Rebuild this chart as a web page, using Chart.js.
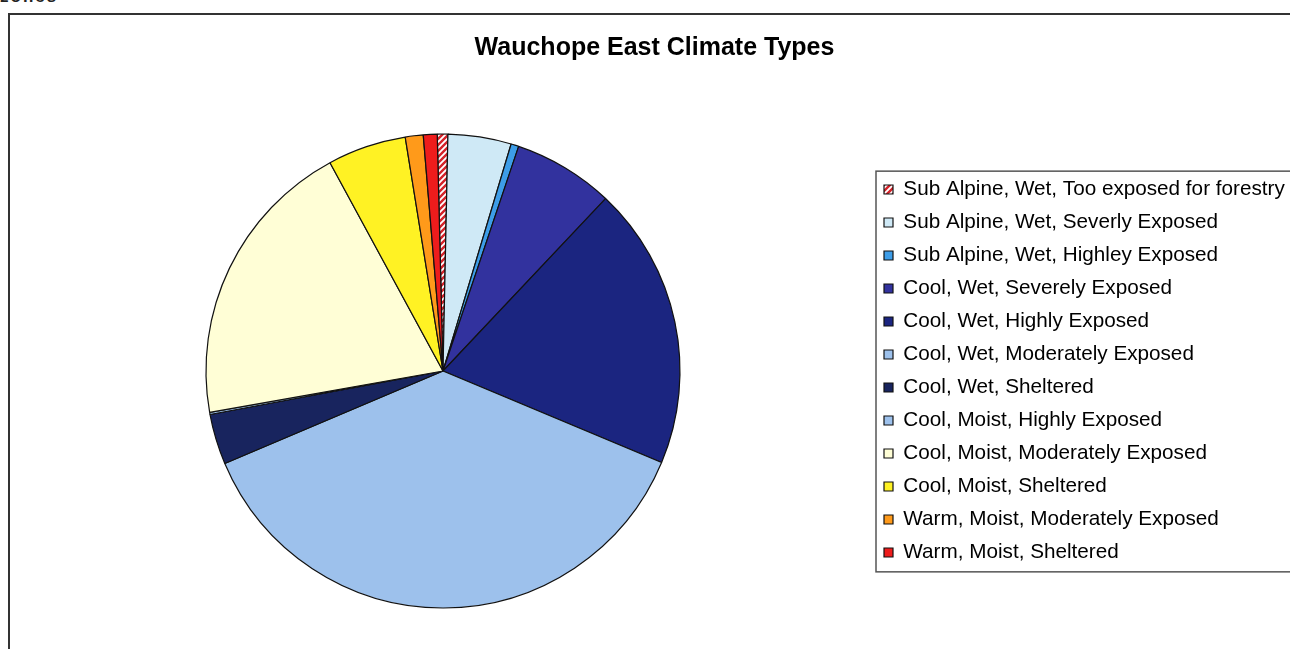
<!DOCTYPE html>
<html>
<head>
<meta charset="utf-8">
<script src="https://cdn.jsdelivr.net/npm/chart.js@4.4.1/dist/chart.umd.min.js"></script>
<style>
    body { margin: 0; background: #fff; overflow: hidden; width: 1290px; height: 649px; position: relative; }
    #cut { position: absolute; left: 0; top: -13px; font: bold 17px "Liberation Sans", Arial, sans-serif; color: #222; letter-spacing: 2px; }
    #frame { position: absolute; left: 8px; top: 13px; width: 1292px; height: 680px; border: 2px solid #333; }
    canvas { display: block; }
</style>
</head>
<body>
<div id="cut">zones</div>
<div id="frame"><canvas id="climateChart" width="1292" height="680"></canvas></div>
<script>
    // data (share of area, %)
    const categories = [
        'Sub Alpine, Wet, Too exposed for forestry',
        'Sub Alpine, Wet, Severly Exposed',
        'Sub Alpine, Wet, Highley Exposed',
        'Cool, Wet, Severely Exposed',
        'Cool, Wet, Highly Exposed',
        'Cool, Wet, Moderately Exposed',
        'Cool, Wet, Sheltered',
        'Cool, Moist, Highly Exposed',
        'Cool, Moist, Moderately Exposed',
        'Cool, Moist, Sheltered',
        'Warm, Moist, Moderately Exposed',
        'Warm, Moist, Sheltered'
    ];
    const shares = [0.72, 4.31, 0.53, 6.86, 19.28, 37.31, 3.44, 0.14, 19.89, 5.36, 1.22, 0.94];
    const chartTitle = 'Wauchope East Climate Types';

    const fontFamily = '"Liberation Sans", Arial, sans-serif';
    const legendFont = 20.7;
    const legendPad = 12.3;
    const boxSize = 9;

    //striped fill for the first slice
    function hatch() {
        const c = document.createElement('canvas');
        c.width = c.height = 6;
        const g = c.getContext('2d');
        g.fillStyle = '#ffffff';
        g.fillRect(0, 0, 6, 6);
        g.strokeStyle = '#d42229';
        g.lineWidth = 2.4;
        g.beginPath();
        g.moveTo(-1, 7); g.lineTo(7, -1);
        g.moveTo(-4, 4); g.lineTo(4, -4);
        g.moveTo(2, 10); g.lineTo(10, 2);
        g.stroke();
        return g.createPattern(c, 'repeat');
    }

    const colors = [
        hatch(), '#cfe9f6', '#3d9de8', '#32329e', '#1b2580', '#9dc1ec',
        '#18245e', '#9dc1ec', '#fffed6', '#fff224', '#ff9a1a', '#ee1c1c'
    ];

    //layout numbers (canvas coords)
    const W = 1292, H = 680;
    const cx = 433, cy = 356;
    const titleTop = 18, titleBottom = 10, titleSize = 25;
    const caTop = titleTop + titleSize * 1.2 + titleBottom;
    const padBottom = H - (2 * cy - caTop);
    const legendLeft = 874 - legendPad;
    const padLeft = 2 * cx - legendLeft;

    const m = document.createElement('canvas').getContext('2d');
    m.font = legendFont + 'px ' + fontFamily;
    const textW = Math.max(...categories.map(c => m.measureText(c).width));
    const legendW = legendPad + boxSize + legendFont / 2 + textW + 10;
    const padRight = W - legendLeft - legendW;

    const legendFrame = {
        id: 'legendFrame',
        afterDraw(chart) {
            const boxes = chart.legend.legendHitBoxes;
            if (!boxes || !boxes.length) return;
            const first = boxes[0], last = boxes[boxes.length - 1];
            const ctx = chart.ctx;
            ctx.save();
            ctx.strokeStyle = '#555';
            ctx.lineWidth = 1.5;
            ctx.strokeRect(first.left - 8, first.top - 8, W, last.top + last.height + 9 - (first.top - 8));
            ctx.restore();
        }
    };

    const ctx = document.getElementById('climateChart');
    const climateChart = new Chart(ctx, {
        type: 'pie',
        data: {
            labels: categories,
            datasets: [{
                data: shares,
                backgroundColor: colors,
                borderColor: '#111',
                borderWidth: 1.2
            }]
        },
        options: {
            responsive: false,
            animation: false,
            rotation: -1.4,
            radius: 237,
            layout: {
                padding: { top: 0, left: padLeft, right: padRight, bottom: padBottom }
            },
            plugins: {
                title: {
                    display: true,
                    text: chartTitle,
                    color: '#000',
                    font: { family: fontFamily, size: titleSize, weight: 'bold' },
                    padding: { top: titleTop, bottom: titleBottom }
                },
                legend: {
                    position: 'right',
                    fullSize: false,
                    labels: {
                        color: '#000',
                        boxWidth: boxSize,
                        boxHeight: boxSize,
                        padding: legendPad,
                        font: { family: fontFamily, size: legendFont }
                    }
                },
                tooltip: { enabled: false }
            }
        },
        plugins: [legendFrame]
    });
</script>
</body>
</html>
